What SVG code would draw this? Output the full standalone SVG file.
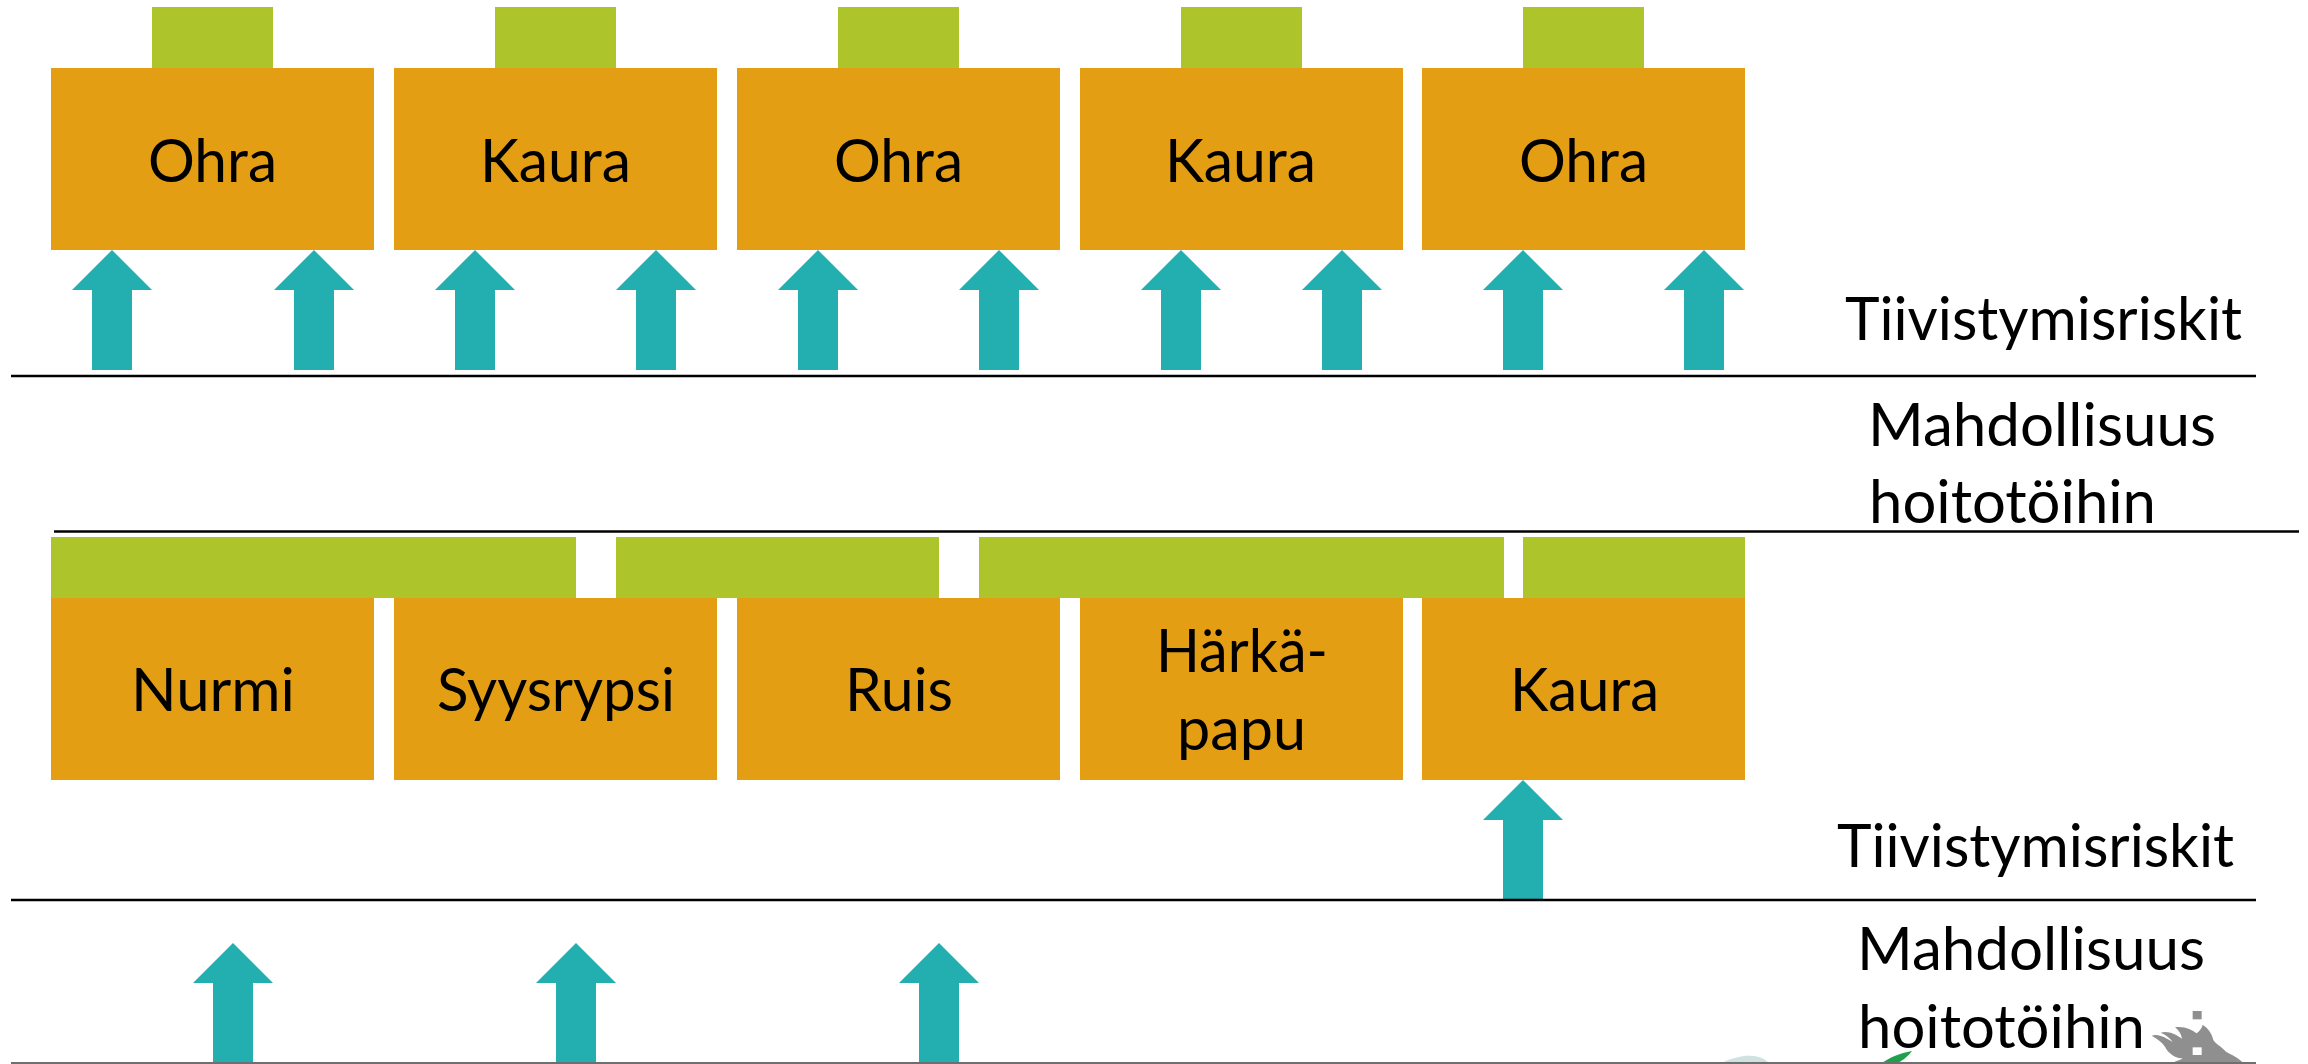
<svg xmlns="http://www.w3.org/2000/svg" width="2308" height="1064" viewBox="0 0 2308 1064">
<style>
.crop{fill:#E39E13}
.cover{fill:#ADC42B}
.arrow{fill:#23AEB0}
.rule{stroke:#000;stroke-width:2.5;fill:none}
.rule-low{stroke:#6f6f6f;stroke-width:2;fill:none}
text{font-family:"Lato","Carlito","Open Sans",sans-serif;font-size:60px;fill:#000}
</style>
<defs>
<path id="up" d="M0 0L40 40H20V120H-20V40H-40Z"/>
</defs>
<rect width="2308" height="1064" fill="#fff"/>
<g id="logo-fragments">
<path d="M1720 1064C1728 1059 1738 1057 1744 1056C1752 1055 1760 1057 1764 1059L1770 1064Z" fill="#cfe2df"/>
<path d="M1912 1051C1900 1053 1888 1058 1881 1064H1896C1904 1060 1909 1055 1912 1051Z" fill="#1fa04b"/>
<g transform="translate(2100 990) scale(.3333)">
<rect x="278" y="63" width="27" height="25" fill="#8f8f8f"/>
<path d="M155 137C178 130 198 145 218 156C210 145 198 134 182 128C205 122 225 132 246 146C244 132 236 120 225 112C255 108 275 120 290 130C298 124 305 115 308 105C325 115 335 130 340 150C350 165 365 170 378 185C395 195 420 205 432 222H215C225 212 240 212 248 205C225 205 205 190 195 170C185 155 170 145 155 137Z" fill="#8f8f8f"/>
<rect x="278" y="172" width="27" height="23" fill="#fff"/>
</g>
</g>
<g id="connectors">
<use href="#up" class="arrow" x="112" y="250"/>
<use href="#up" class="arrow" x="314" y="250"/>
<use href="#up" class="arrow" x="475" y="250"/>
<use href="#up" class="arrow" x="656" y="250"/>
<use href="#up" class="arrow" x="818" y="250"/>
<use href="#up" class="arrow" x="999" y="250"/>
<use href="#up" class="arrow" x="1181" y="250"/>
<use href="#up" class="arrow" x="1342" y="250"/>
<use href="#up" class="arrow" x="1523" y="250"/>
<use href="#up" class="arrow" x="1704" y="250"/>
<use href="#up" class="arrow" x="1523" y="780"/>
<use href="#up" class="arrow" x="233" y="943"/>
<use href="#up" class="arrow" x="576" y="943"/>
<use href="#up" class="arrow" x="939" y="943"/>
</g>
<g id="rules">
<line class="rule" x1="11" y1="376" x2="2256" y2="376"/>
<line class="rule" x1="54" y1="531.5" x2="2299" y2="531.5"/>
<line class="rule" x1="11" y1="900" x2="2256" y2="900"/>
<line class="rule-low" x1="11" y1="1063" x2="2256" y2="1063"/>
</g>
<g id="cover-top-1"><rect class="cover" x="152" y="7" width="121" height="61"/></g>
<g id="cover-top-2"><rect class="cover" x="495" y="7" width="121" height="61"/></g>
<g id="cover-top-3"><rect class="cover" x="838" y="7" width="121" height="61"/></g>
<g id="cover-top-4"><rect class="cover" x="1181" y="7" width="121" height="61"/></g>
<g id="cover-top-5"><rect class="cover" x="1523" y="7" width="121" height="61"/></g>
<g id="cover-low-1"><rect class="cover" x="51" y="537" width="525" height="61"/></g>
<g id="cover-low-2"><rect class="cover" x="616" y="537" width="323" height="61"/></g>
<g id="cover-low-3"><rect class="cover" x="979" y="537" width="525" height="61"/></g>
<g id="cover-low-4"><rect class="cover" x="1523" y="537" width="222" height="61"/></g>
<g id="top-ohra-1"><rect class="crop" x="51" y="68" width="323" height="182"/><text x="148" y="182" textLength="129" lengthAdjust="spacingAndGlyphs">Ohra</text></g>
<g id="top-kaura-1"><rect class="crop" x="394" y="68" width="323" height="182"/><text x="480" y="182" textLength="151" lengthAdjust="spacingAndGlyphs">Kaura</text></g>
<g id="top-ohra-2"><rect class="crop" x="737" y="68" width="323" height="182"/><text x="834" y="182" textLength="129" lengthAdjust="spacingAndGlyphs">Ohra</text></g>
<g id="top-kaura-2"><rect class="crop" x="1080" y="68" width="323" height="182"/><text x="1165" y="182" textLength="151" lengthAdjust="spacingAndGlyphs">Kaura</text></g>
<g id="top-ohra-3"><rect class="crop" x="1422" y="68" width="323" height="182"/><text x="1519" y="182" textLength="129" lengthAdjust="spacingAndGlyphs">Ohra</text></g>
<g id="low-nurmi"><rect class="crop" x="51" y="598" width="323" height="182"/><text x="131" y="711" textLength="164" lengthAdjust="spacingAndGlyphs">Nurmi</text></g>
<g id="low-syysrypsi"><rect class="crop" x="394" y="598" width="323" height="182"/><text x="437" y="711" textLength="238" lengthAdjust="spacingAndGlyphs">Syysrypsi</text></g>
<g id="low-ruis"><rect class="crop" x="737" y="598" width="323" height="182"/><text x="845" y="711" textLength="108" lengthAdjust="spacingAndGlyphs">Ruis</text></g>
<g id="low-harkapapu"><rect class="crop" x="1080" y="598" width="323" height="182"/><text x="1156" y="672" textLength="172" lengthAdjust="spacingAndGlyphs">Härkä-</text><text x="1177" y="750" textLength="129" lengthAdjust="spacingAndGlyphs">papu</text></g>
<g id="low-kaura"><rect class="crop" x="1422" y="598" width="323" height="182"/><text x="1510" y="711" textLength="149" lengthAdjust="spacingAndGlyphs">Kaura</text></g>
<g id="labels">
<text x="1845" y="340" textLength="397" lengthAdjust="spacingAndGlyphs">Tiivistymisriskit</text>
<text x="1868" y="446" textLength="348" lengthAdjust="spacingAndGlyphs">Mahdollisuus</text>
<text x="1869" y="523" textLength="287" lengthAdjust="spacingAndGlyphs">hoitotöihin</text>
<text x="1837" y="867" textLength="397" lengthAdjust="spacingAndGlyphs">Tiivistymisriskit</text>
<text x="1857" y="970" textLength="348" lengthAdjust="spacingAndGlyphs">Mahdollisuus</text>
<text x="1858" y="1048" textLength="287" lengthAdjust="spacingAndGlyphs">hoitotöihin</text>
</g>
</svg>
